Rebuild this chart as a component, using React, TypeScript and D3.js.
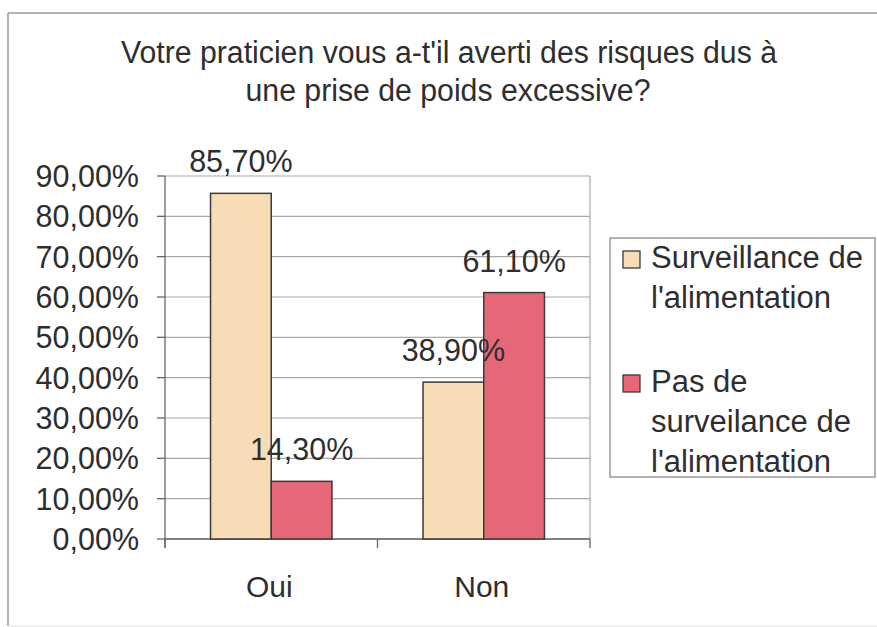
import React from "react";
import * as d3 from "d3";

const categories = ["Oui", "Non"];
const seriesNames = ["Surveillance de l'alimentation", "Pas de surveilance de l'alimentation"];
const surveillance = [85.7, 38.9];
const pasSurveillance = [14.3, 61.1];
const yTicks = [0, 10, 20, 30, 40, 50, 60, 70, 80, 90];
const titleLines = ["Votre praticien vous a-t'il averti des risques dus à", "une prise de poids excessive?"];
const legendLines = [["Surveillance de", "l'alimentation"], ["Pas de", "surveilance de", "l'alimentation"]];

const W = 877;
const H = 627;
const left = 165;
const right = 590;
const top = 176;
const bottom = 539;
const colors = ["#F8DCB6", "#E66878"];
const font = "'Liberation Sans', Arial, sans-serif";
const textColor = "#2e2e2e";

const fmt = (v: number) => v.toFixed(2).replace(".", ",") + "%";

export default function App() {
  const x = d3.scaleBand<string>().domain(categories).range([left, right]).padding(0);
  const barW = x.bandwidth() / 3.5;
  const inner = d3
    .scaleBand<number>()
    .domain([0, 1])
    .range([(x.bandwidth() - 2 * barW) / 2, (x.bandwidth() + 2 * barW) / 2])
    .padding(0);
  const y = d3.scaleLinear().domain([0, 90]).range([bottom, top]);
  const series = [surveillance, pasSurveillance];
  const xTickPos = [left, left + x.bandwidth(), right];

  return (
    <svg
      width={W}
      height={H}
      style={{ position: "absolute", left: 0, top: 0, background: "#fff" }}
      fontFamily={font}
    >
      <rect x={0} y={0} width={W} height={H} fill="#fff" />
      {/* chart border */}
      <line x1={8} y1={13} x2={W} y2={13} stroke="#9a9a9a" strokeWidth={1.5} />
      <line x1={8} y1={13} x2={8} y2={626} stroke="#9a9a9a" strokeWidth={1.5} />
      <line x1={8} y1={626} x2={W} y2={626} stroke="#e0e0e0" strokeWidth={1} />

      {/* title */}
      <text x={449} y={63} textAnchor="middle" fontSize={31} fill={textColor} textLength={656} lengthAdjust="spacingAndGlyphs">
        {titleLines[0]}
      </text>
      <text x={448} y={101} textAnchor="middle" fontSize={31} fill={textColor} textLength={405} lengthAdjust="spacingAndGlyphs">
        {titleLines[1]}
      </text>

      {/* gridlines */}
      {yTicks.map((t) => (
        <line key={"g" + t} x1={left} x2={right} y1={y(t)} y2={y(t)} stroke="#a8a8a8" strokeWidth={1.2} />
      ))}
      <line x1={right} x2={right} y1={top} y2={bottom} stroke="#a8a8a8" strokeWidth={1.2} />

      {/* y axis */}
      <line x1={left} x2={left} y1={top} y2={bottom + 9} stroke="#666" strokeWidth={1.3} />
      {yTicks.map((t) => (
        <g key={"t" + t}>
          <line x1={left - 8} x2={left} y1={y(t)} y2={y(t)} stroke="#666" strokeWidth={1.3} />
          <text x={139} y={y(t) + 11} textAnchor="end" fontSize={30.5} fill={textColor}>
            {fmt(t)}
          </text>
        </g>
      ))}

      {/* x axis */}
      <line x1={left} x2={right} y1={bottom} y2={bottom} stroke="#666" strokeWidth={1.3} />
      {xTickPos.map((p, i) => (
        <line key={"xt" + i} x1={p} x2={p} y1={bottom} y2={bottom + 9} stroke="#666" strokeWidth={1.3} />
      ))}
      {categories.map((c) => (
        <text key={c} x={(x(c) as number) + x.bandwidth() / 2 - 2} y={597} textAnchor="middle" fontSize={30} fill={textColor}>
          {c}
        </text>
      ))}

      {/* bars */}
      {series.map((vals, si) =>
        categories.map((c, ci) => {
          const bx = (x(c) as number) + (inner(si) as number);
          const by = y(vals[ci]);
          return (
            <rect
              key={si + "-" + c}
              x={bx}
              y={by}
              width={inner.bandwidth()}
              height={bottom - by}
              fill={colors[si]}
              stroke="#3a3a3a"
              strokeWidth={1.5}
            />
          );
        })
      )}

      {/* data labels */}
      {series.map((vals, si) =>
        categories.map((c, ci) => {
          const bx = (x(c) as number) + (inner(si) as number) + inner.bandwidth() / 2;
          const by = y(vals[ci]);
          return (
            <text key={"l" + si + c} x={bx} y={by - 21} textAnchor="middle" fontSize={30.5} fill={textColor}>
              {fmt(vals[ci])}
            </text>
          );
        })
      )}

      {/* legend */}
      <rect x={610} y={238} width={265} height={239} fill="#fff" stroke="#8a8a8a" strokeWidth={1.3} />
      {[0, 1].map((si) => {
        const baseY = si === 0 ? 268 : 392;
        return (
          <g key={"lg" + si}>
            <rect x={623} y={baseY - 17} width={17} height={17} fill={colors[si]} stroke="#3a3a3a" strokeWidth={1.3} />
            {legendLines[si].map((ln, li) => (
              <text key={li} x={651} y={baseY + li * 40} fontSize={31} fill={textColor}>
                {ln}
              </text>
            ))}
          </g>
        );
      })}
      <title>{seriesNames.join(" / ")}</title>
    </svg>
  );
}
